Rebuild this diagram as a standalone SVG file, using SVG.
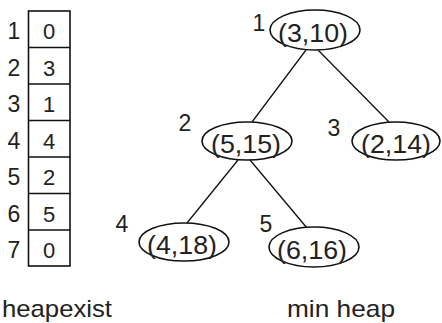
<svg xmlns="http://www.w3.org/2000/svg" width="442" height="323" viewBox="0 0 442 323">
<style>
text{font-family:"Liberation Sans","DejaVu Sans",sans-serif;fill:#222;}
.idx{font-size:23px;text-anchor:middle;}
.val{font-size:22px;text-anchor:middle;}
.nl{font-size:23px;text-anchor:middle;}
.in{font-size:25px;text-anchor:middle;}
.cap{font-size:24px;}
ellipse{fill:#fff;stroke:#111;stroke-width:1.6;}
.tbl{fill:none;stroke:#111;stroke-width:1.6;}
.edge{stroke:#111;stroke-width:1.3;fill:none;}
</style>
<rect width="442" height="323" fill="#fff"/>
<g id="heapexist">
<rect class="tbl" x="28.5" y="11" width="41.5" height="255"/>
<path class="tbl" d="M28.5 47.5H70M28.5 84H70M28.5 120.5H70M28.5 157H70M28.5 193.5H70M28.5 230H70"/>
<text class="idx" x="14" y="39">1</text><text class="val" x="49" y="39">0</text>
<text class="idx" x="14" y="75.5">2</text><text class="val" x="49" y="75.5">3</text>
<text class="idx" x="14" y="112">3</text><text class="val" x="49" y="112">1</text>
<text class="idx" x="14" y="148.5">4</text><text class="val" x="49" y="148.5">4</text>
<text class="idx" x="14" y="185">5</text><text class="val" x="49" y="185">2</text>
<text class="idx" x="14" y="221.5">6</text><text class="val" x="49" y="221.5">5</text>
<text class="idx" x="14" y="258">7</text><text class="val" x="49" y="258">0</text>
<text class="cap" x="2" y="317" textLength="110" lengthAdjust="spacingAndGlyphs">heapexist</text>
</g>
<g id="edges">
<line class="edge" x1="306" y1="50" x2="252" y2="122"/>
<line class="edge" x1="318" y1="50" x2="389" y2="122"/>
<line class="edge" x1="238" y1="160" x2="187" y2="223"/>
<line class="edge" x1="250" y1="160" x2="307" y2="228"/>
</g>
<g id="n1">
<ellipse cx="315" cy="30" rx="45" ry="20"/>
<text class="in" x="313" y="42" textLength="70" lengthAdjust="spacingAndGlyphs">(3,10)</text>
<text class="nl" x="259" y="31">1</text>
</g>
<g id="n2">
<ellipse cx="247" cy="141" rx="45" ry="19"/>
<text class="in" x="246" y="153" textLength="70" lengthAdjust="spacingAndGlyphs">(5,15)</text>
<text class="nl" x="185" y="131">2</text>
</g>
<g id="n3">
<ellipse cx="396" cy="141" rx="44" ry="19"/>
<text class="in" x="396" y="153" textLength="70" lengthAdjust="spacingAndGlyphs">(2,14)</text>
<text class="nl" x="334" y="136">3</text>
</g>
<g id="n4">
<ellipse cx="184" cy="242" rx="45" ry="19"/>
<text class="in" x="182" y="254" textLength="70" lengthAdjust="spacingAndGlyphs">(4,18)</text>
<text class="nl" x="122" y="232">4</text>
</g>
<g id="n5">
<ellipse cx="314" cy="247" rx="45" ry="20"/>
<text class="in" x="312" y="259" textLength="70" lengthAdjust="spacingAndGlyphs">(6,16)</text>
<text class="nl" x="266" y="232">5</text>
</g>
<text class="cap" x="287" y="317" textLength="108" lengthAdjust="spacingAndGlyphs">min heap</text>
</svg>
